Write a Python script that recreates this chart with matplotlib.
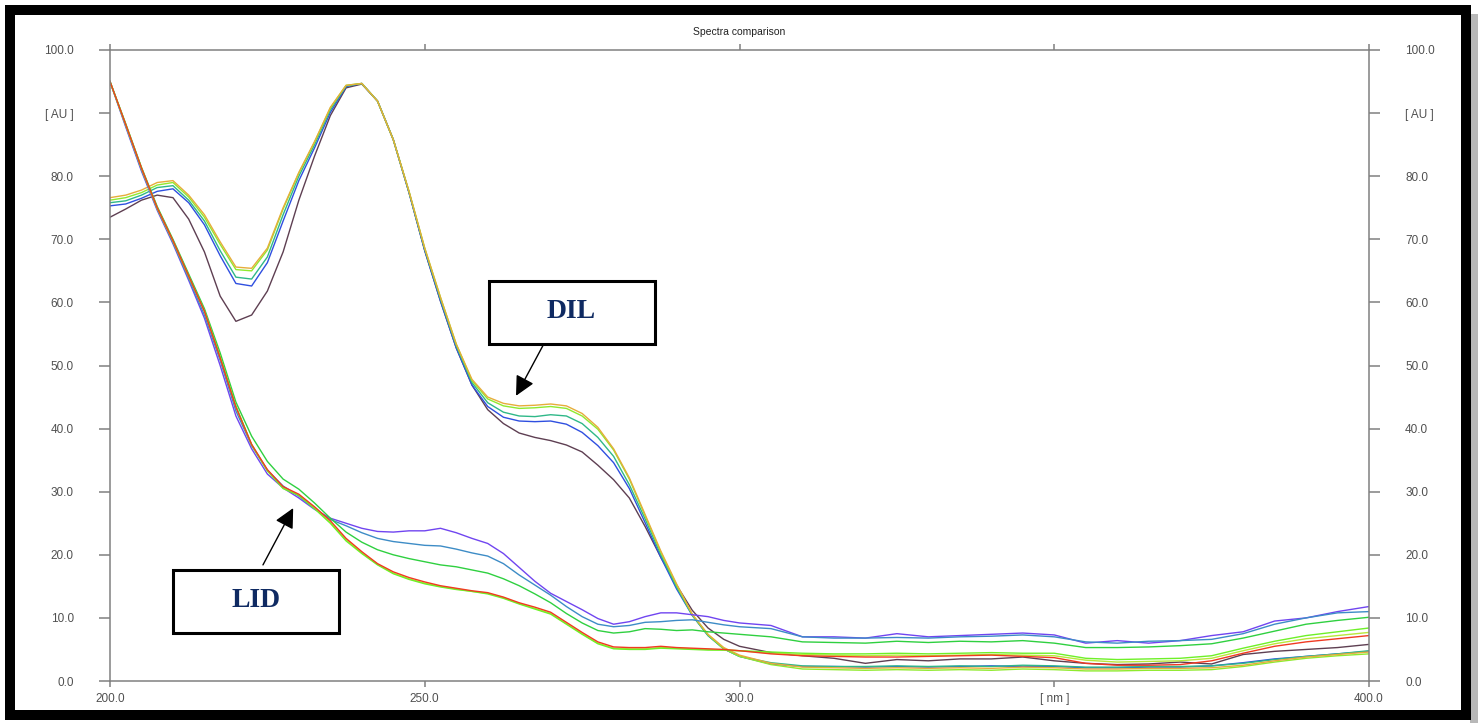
import numpy as np
import matplotlib
matplotlib.use("Agg")
import matplotlib.pyplot as plt
from matplotlib.patches import Rectangle

plt.rcParams["font.family"] = ["Liberation Sans", "DejaVu Sans"]

# wavelength grid, nm
wl = list(np.arange(200.0, 300.1, 2.5)) + list(np.arange(305.0, 400.1, 5.0))

# DIL spectra [AU]
dil_orange = [76.6, 77.0, 77.8, 79.0, 79.3, 77.0, 73.9, 69.6, 65.6, 65.4, 68.6, 75.0, 80.6, 85.5, 90.9, 94.4, 94.7,
              91.9, 85.8, 77.6, 68.6, 60.8, 53.4, 47.8, 45.0, 44.0, 43.6, 43.7, 43.9, 43.6, 42.4, 40.2, 36.8, 32.2,
              26.4, 20.6, 15.4, 10.6, 7.4, 5.3, 4.1,
              2.8, 2.2, 2.1, 2.0, 2.1, 2.0, 2.1, 2.0, 2.2, 2.1, 1.9, 1.9, 2.0, 2.0, 2.1, 2.5, 3.2, 3.8, 4.2, 4.6]
dil_lgreen = [76.2, 76.6, 77.4, 78.6, 79.0, 76.7, 73.5, 69.2, 65.2, 65.0, 68.3, 74.8, 80.5, 85.4, 90.8, 94.4, 94.7,
              91.9, 85.8, 77.6, 68.6, 60.8, 53.4, 47.6, 44.7, 43.6, 43.2, 43.3, 43.5, 43.2, 42.0, 39.9, 36.6, 32.0,
              26.2, 20.4, 15.2, 10.5, 7.3, 5.1, 3.9,
              2.6, 1.9, 1.8, 1.7, 1.8, 1.7, 1.8, 1.7, 1.9, 1.8, 1.6, 1.6, 1.7, 1.7, 1.8, 2.3, 3.0, 3.6, 4.0, 4.3]
dil_teal = [75.8, 76.1, 77.0, 78.2, 78.5, 76.2, 72.9, 68.2, 64.0, 63.7, 67.2, 73.9, 80.0, 85.0, 90.5, 94.3, 94.7,
            91.9, 85.8, 77.5, 68.4, 60.5, 53.1, 47.3, 44.1, 42.6, 42.0, 41.9, 42.2, 42.0, 40.8, 38.6, 35.6, 31.1,
            25.7, 20.0, 14.9, 10.4, 7.2, 5.1, 3.9,
            2.9, 2.4, 2.3, 2.3, 2.4, 2.3, 2.4, 2.3, 2.5, 2.4, 2.2, 2.2, 2.3, 2.3, 2.4, 2.8, 3.4, 3.9, 4.3, 4.8]
dil_blue = [75.3, 75.6, 76.5, 77.6, 78.0, 75.8, 72.3, 67.4, 63.0, 62.6, 66.3, 72.9, 79.3, 84.5, 90.1, 94.2, 94.7,
            91.9, 85.8, 77.4, 68.2, 60.2, 52.8, 46.9, 43.5, 41.8, 41.2, 41.1, 41.2, 40.7, 39.4, 37.3, 34.6, 30.5,
            25.1, 19.6, 14.6, 10.4, 7.2, 5.1, 3.9,
            2.7, 2.3, 2.3, 2.2, 2.3, 2.2, 2.3, 2.4, 2.3, 2.3, 2.1, 2.1, 2.2, 2.2, 2.4, 2.9, 3.5, 3.9, 4.3, 4.7]
dil_brown = [73.5, 74.8, 76.2, 77.0, 76.6, 73.2, 68.0, 61.0, 57.0, 58.0, 61.8, 68.0, 76.2, 83.2, 89.6, 94.0, 94.6,
             91.9, 85.8, 77.4, 68.2, 60.2, 52.8, 46.9, 43.0, 40.8, 39.3, 38.6, 38.1, 37.4, 36.3, 34.2, 31.9, 29.0,
             24.5, 19.6, 15.2, 11.2, 8.4, 6.6, 5.5,
             4.5, 4.0, 3.6, 2.8, 3.4, 3.2, 3.5, 3.5, 3.8, 3.2, 2.8, 2.6, 2.7, 3.0, 2.7, 4.2, 4.7, 5.0, 5.3, 5.8]

# LID spectra [AU]
lid_red = [95.0, 88.2, 81.3, 75.0, 69.8, 64.2, 58.6, 51.2, 43.4, 37.5, 33.5, 30.8, 29.6, 27.6, 25.4, 22.6, 20.5,
           18.6, 17.3, 16.4, 15.7, 15.1, 14.7, 14.3, 14.0, 13.3, 12.4, 11.7, 10.9, 9.3, 7.7, 6.2, 5.4, 5.3,
           5.3, 5.5, 5.3, 5.2, 5.1, 5.0, 4.8,
           4.3, 4.0, 3.9, 3.8, 3.8, 3.9, 4.0, 4.1, 3.9, 3.7, 2.8, 2.5, 2.5, 2.6, 3.2, 4.4, 5.5, 6.2, 6.7, 7.2]
lid_lime = [95.0, 88.2, 81.3, 75.0, 69.8, 64.2, 58.7, 51.4, 43.6, 37.4, 33.3, 30.5, 29.4, 27.3, 25.0, 22.2, 20.2,
            18.4, 17.0, 16.1, 15.4, 14.9, 14.5, 14.2, 13.8, 13.1, 12.2, 11.4, 10.6, 9.0, 7.4, 5.9, 5.1, 5.0,
            5.0, 5.2, 5.1, 5.0, 4.9, 4.9, 4.8,
            4.6, 4.4, 4.3, 4.3, 4.4, 4.3, 4.4, 4.5, 4.4, 4.4, 3.6, 3.4, 3.5, 3.6, 4.0, 5.2, 6.3, 7.2, 7.8, 8.4]
lid_ygreen = [95.0, 88.1, 81.2, 74.9, 69.7, 64.1, 58.6, 51.3, 43.5, 37.5, 33.4, 30.6, 29.5, 27.4, 25.1, 22.4, 20.3,
              18.5, 17.1, 16.2, 15.5, 15.0, 14.6, 14.2, 13.9, 13.2, 12.3, 11.5, 10.7, 9.1, 7.5, 6.0, 5.2, 5.1,
              5.1, 5.3, 5.2, 5.1, 5.0, 4.9, 4.8,
              4.4, 4.2, 4.1, 4.0, 4.1, 4.0, 4.1, 4.2, 4.1, 4.0, 3.3, 3.0, 3.1, 3.2, 3.6, 4.8, 5.9, 6.7, 7.2, 7.7]
lid_green = [95.0, 88.3, 81.4, 75.2, 70.0, 64.5, 59.0, 52.0, 44.2, 38.8, 34.8, 32.0, 30.4, 28.2, 25.8, 23.6, 22.0,
             20.8, 20.0, 19.4, 18.9, 18.4, 18.1, 17.6, 17.1, 16.2, 15.1, 13.8, 12.4, 10.7, 9.2, 8.0, 7.6, 7.8,
             8.3, 8.2, 8.0, 8.1, 7.8, 7.6, 7.4,
             7.0, 6.2, 6.1, 6.0, 6.3, 6.1, 6.3, 6.2, 6.4, 6.0, 5.3, 5.3, 5.4, 5.6, 5.9, 6.8, 7.9, 9.0, 9.6, 10.1]
lid_steel = [95.0, 88.0, 81.0, 74.8, 69.5, 63.8, 58.0, 50.8, 42.8, 37.3, 33.4, 30.9, 29.3, 27.3, 25.6, 24.6, 23.5,
             22.6, 22.1, 21.8, 21.5, 21.4, 20.9, 20.3, 19.8, 18.6, 16.8, 15.2, 13.6, 11.8, 10.2, 9.0, 8.6, 8.8,
             9.3, 9.4, 9.6, 9.7, 9.3, 8.9, 8.6,
             8.3, 7.0, 6.8, 6.8, 6.9, 6.8, 7.0, 7.1, 7.3, 7.0, 6.2, 6.0, 6.3, 6.4, 6.6, 7.5, 9.0, 10.0, 10.8, 11.0]
lid_violet = [95.0, 87.8, 80.8, 74.6, 69.3, 63.5, 57.5, 50.0, 42.0, 36.8, 32.8, 30.6, 29.0, 27.2, 25.8, 25.0, 24.2,
              23.7, 23.6, 23.8, 23.8, 24.2, 23.5, 22.6, 21.8, 20.2, 18.0, 15.8, 13.9, 12.6, 11.3, 9.9, 9.0, 9.4,
              10.2, 10.8, 10.8, 10.5, 10.2, 9.6, 9.2,
              8.8, 7.0, 7.0, 6.8, 7.5, 7.0, 7.2, 7.4, 7.6, 7.3, 6.0, 6.4, 6.0, 6.4, 7.2, 7.8, 9.5, 10.0, 11.0, 11.8]

x_ticks = [200, 250, 300, 350, 400]
x_labels = ["200.0", "250.0", "300.0", "[ nm ]", "400.0"]
y_ticks = [0, 10, 20, 30, 40, 50, 60, 70, 80, 90, 100]
y_labels = ["0.0", "10.0", "20.0", "30.0", "40.0", "50.0", "60.0", "70.0", "80.0", "[ AU ]", "100.0"]

W, H = 1483, 723
fig = plt.figure(figsize=(W / 100, H / 100), dpi=100)
fig.patch.set_facecolor("white")

# shadow + thick black frame round the whole chart
fig.patches.append(Rectangle((1470 / W, 0), 8 / W, 1 - 14 / H, transform=fig.transFigure,
                             fc="#b8b8b8", ec="none", zorder=0))
fig.patches.append(Rectangle((10 / W, 1 - 715 / H), 1456 / W, 705.5 / H, transform=fig.transFigure,
                             fc="none", ec="black", lw=7.2, zorder=1))

ax = fig.add_axes([110 / W, 1 - 681 / H, 1259 / W, 631 / H])

lines = [
    (dil_brown, "#5e3f52"),
    (dil_blue, "#2f4fe0"),
    (dil_teal, "#2fb888"),
    (dil_lgreen, "#8fea2e"),
    (dil_orange, "#e6ad3a"),
    (lid_violet, "#7045f0"),
    (lid_steel, "#3d8cc6"),
    (lid_green, "#2fd040"),
    (lid_ygreen, "#b8e83a"),
    (lid_lime, "#6ef028"),
    (lid_red, "#f03a22"),
]
for vals, col in lines:
    ax.plot(wl, vals, color=col, lw=1.0)

ax.set_xlim(200, 400)
ax.set_ylim(0, 100)
ax.set_xticks(x_ticks)
ax.set_xticklabels(x_labels)
ax.set_yticks(y_ticks)
ax.set_yticklabels(y_labels)

for s in ax.spines.values():
    s.set_color("#808080")
    s.set_linewidth(1.1)
ax.tick_params(axis="y", direction="out", length=8, width=1.1, color="#808080",
               left=True, right=True, labelleft=True, labelright=True,
               labelsize=8.5, labelcolor="#505050", pad=18)
ax.tick_params(axis="x", direction="out", length=4.5, width=1.1, color="#808080",
               top=True, bottom=True, labelsize=8.5, labelcolor="#505050", pad=4)

ax.set_title("Spectra comparison", fontsize=7.5, color="#222222", pad=11)

# labelled boxes with arrows
ax.add_patch(Rectangle((260.2, 53.4), 26.4, 10.0, fc="white", ec="black", lw=2.2, zorder=5))
ax.text(273.2, 58.5, "DIL", fontsize=20, fontweight="bold", family="Liberation Serif",
        color="#0f2a62", ha="center", va="center", zorder=6)
ax.annotate("", xy=(264.5, 45.2), xytext=(268.8, 53.2),
            arrowprops=dict(arrowstyle="-|>,head_length=1.0,head_width=0.5", mutation_scale=12,
                            color="black", lw=1.0, shrinkA=0, shrinkB=0), zorder=6)

ax.add_patch(Rectangle((210.0, 7.6), 26.4, 10.0, fc="white", ec="black", lw=2.2, zorder=5))
ax.text(223.2, 12.7, "LID", fontsize=20, fontweight="bold", family="Liberation Serif",
        color="#0f2a62", ha="center", va="center", zorder=6)
ax.annotate("", xy=(229.1, 27.4), xytext=(224.3, 18.4),
            arrowprops=dict(arrowstyle="-|>,head_length=1.0,head_width=0.5", mutation_scale=12,
                            color="black", lw=1.0, shrinkA=0, shrinkB=0), zorder=6)

fig.savefig("out.png", dpi=100)
